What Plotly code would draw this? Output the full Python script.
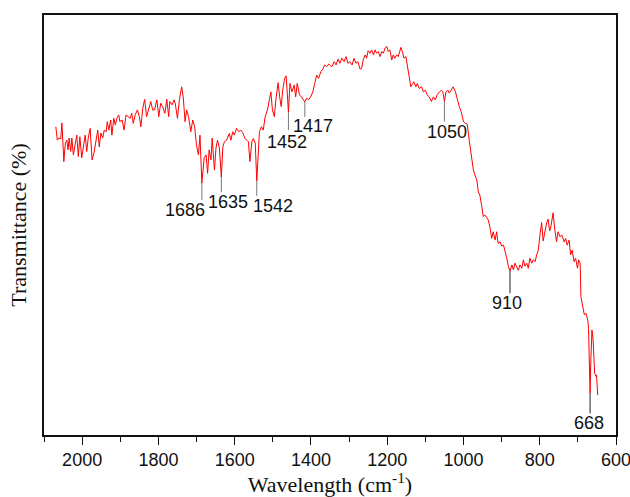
import numpy as np
import plotly.graph_objects as go

# FTIR spectrum (wavenumber in cm-1, transmittance in arbitrary %)
wavenumber = [
    2069, 2065, 2061, 2056, 2053, 2048, 2044, 2040, 2037, 2034, 2030, 2027, 2023, 2019, 2014, 2010,
    2006, 2001, 1997, 1992, 1988, 1984, 1979, 1974, 1969, 1964, 1959, 1955, 1951, 1946, 1942, 1937,
    1934, 1930, 1925, 1922, 1917, 1913, 1909, 1904, 1901, 1895, 1890, 1885, 1880, 1874, 1870, 1866,
    1861, 1855, 1850, 1846, 1841, 1836, 1831, 1825, 1820, 1815, 1810, 1804, 1799, 1794, 1789, 1783,
    1778, 1773, 1770, 1764, 1759, 1756, 1750, 1745, 1739, 1735, 1730, 1726, 1721, 1715, 1710, 1705,
    1700, 1695, 1691, 1686, 1680, 1675, 1671, 1667, 1662, 1659, 1653, 1649, 1645, 1640, 1635, 1631,
    1627, 1621, 1614, 1610, 1605, 1601, 1595, 1589, 1584, 1579, 1573, 1568, 1564, 1560, 1555, 1551,
    1546, 1542, 1535, 1530, 1525, 1520, 1514, 1509, 1505, 1501, 1496, 1492, 1486, 1482, 1478, 1474,
    1469, 1465, 1459, 1455, 1450, 1444, 1440, 1436, 1430, 1425, 1420, 1416, 1411, 1406, 1401, 1395,
    1390, 1385, 1380, 1374, 1369, 1364, 1359, 1353, 1348, 1345, 1339, 1334, 1329, 1324, 1319, 1313,
    1308, 1303, 1298, 1292, 1287, 1282, 1277, 1271, 1267, 1263, 1258, 1254, 1250, 1245, 1241, 1236,
    1232, 1228, 1223, 1219, 1214, 1210, 1206, 1201, 1197, 1193, 1188, 1184, 1180, 1175, 1171, 1166,
    1164, 1159, 1156, 1151, 1147, 1143, 1138, 1133, 1130, 1125, 1121, 1116, 1110, 1105, 1100, 1095,
    1090, 1084, 1079, 1074, 1069, 1063, 1058, 1054, 1050, 1046, 1041, 1037, 1032, 1027, 1021, 1016,
    1011, 1006, 1000, 995, 990, 985, 978, 974, 970, 965, 961, 957, 952, 948, 944, 939,
    935, 930, 926, 922, 917, 913, 909, 904, 900, 895, 891, 887, 882, 878, 873, 869,
    865, 860, 856, 852, 847, 843, 839, 834, 830, 826, 821, 817, 812, 808, 804, 799,
    795, 791, 786, 782, 778, 774, 770, 765, 761, 756, 752, 747, 742, 736, 732, 728,
    723, 719, 715, 710, 706, 701, 698, 694, 692, 687, 683, 679, 674, 672, 668, 666,
    663, 660, 656, 652, 651, 648,
]
transmittance = [
    73.4, 70.2, 70.7, 70.5, 74.3, 65.1, 69.5, 70.2, 67.9, 70.7, 67.5, 70.7, 66.7, 68.6, 71.4, 66.3,
    71.0, 66.0, 68.6, 71.4, 67.5, 70.7, 73.0, 65.5, 67.1, 70.2, 72.6, 68.6, 71.9, 70.7, 72.6, 72.2,
    74.6, 72.6, 75.0, 71.4, 75.4, 73.8, 75.4, 76.2, 74.6, 75.0, 72.6, 76.2, 75.8, 75.4, 76.6, 74.2,
    76.2, 77.4, 75.8, 73.4, 77.8, 79.9, 75.8, 78.2, 79.4, 77.4, 77.4, 79.8, 75.8, 79.0, 78.2, 76.6,
    79.9, 75.8, 79.4, 78.6, 79.8, 79.0, 75.4, 79.8, 82.9, 80.5, 74.6, 77.4, 75.8, 72.2, 75.0, 73.4,
    69.0, 66.7, 71.4, 60.0, 66.0, 66.7, 62.3, 67.9, 65.5, 70.7, 63.1, 68.3, 70.2, 68.3, 61.4, 68.6,
    69.8, 70.2, 71.8, 70.2, 72.2, 71.4, 73.0, 72.2, 72.6, 72.0, 70.6, 70.2, 69.8, 65.1, 69.8, 70.6,
    69.5, 60.5, 72.2, 73.4, 72.6, 75.8, 77.4, 79.8, 81.7, 77.4, 75.8, 79.8, 83.9, 80.5, 78.2, 82.1,
    84.9, 85.5, 76.9, 83.7, 81.7, 83.3, 80.5, 83.7, 81.0, 80.5, 79.8, 79.3, 80.2, 79.8, 80.5, 81.7,
    83.7, 85.7, 84.9, 86.5, 87.1, 88.1, 87.7, 88.3, 87.9, 87.7, 88.9, 88.1, 89.5, 88.5, 89.7, 88.9,
    90.1, 88.5, 88.9, 88.1, 89.7, 88.5, 88.9, 87.1, 87.3, 89.3, 90.5, 89.7, 91.5, 90.9, 91.7, 90.5,
    91.7, 90.9, 91.3, 90.1, 91.3, 90.9, 92.1, 92.5, 91.3, 91.7, 89.3, 90.5, 89.7, 90.5, 90.1, 91.7,
    92.3, 90.9, 89.7, 90.1, 87.7, 85.7, 82.9, 83.7, 84.1, 82.9, 83.7, 82.5, 82.9, 81.7, 82.1, 81.0,
    80.5, 79.4, 80.5, 79.8, 81.0, 81.7, 82.1, 81.7, 79.4, 81.7, 82.1, 81.4, 82.1, 82.9, 81.7, 79.8,
    78.2, 77.0, 74.6, 74.2, 74.0, 70.2, 65.5, 63.1, 61.9, 60.7, 57.9, 57.1, 54.4, 52.0, 52.4, 51.6,
    51.2, 49.2, 46.8, 48.4, 46.4, 48.4, 45.6, 46.0, 45.0, 45.2, 43.3, 42.3, 40.1, 39.0, 40.5, 39.3,
    40.9, 40.1, 39.2, 40.5, 39.7, 41.7, 40.2, 40.9, 39.7, 42.1, 40.9, 41.7, 41.3, 42.9, 43.9, 47.9,
    50.6, 46.2, 48.8, 50.5, 51.4, 48.6, 50.0, 52.9, 49.3, 46.0, 48.4, 47.2, 47.6, 46.0, 46.8, 45.2,
    46.4, 42.9, 44.0, 41.3, 42.1, 39.7, 41.7, 40.9, 32.9, 30.5, 28.6, 29.0, 27.4, 25.4, 9.9, 17.9,
    25.0, 22.6, 14.7, 13.9, 14.3, 9.5,
]

# Peak markers: position on the curve and the label printed in the reference
peak_positions = [1686, 1635, 1542, 1459, 1416, 1050, 878, 668]
peak_labels = ["1686", "1635", "1542", "1452", "1417", "1050", "910", "668"]

x_tick_values = [2000, 1800, 1600, 1400, 1200, 1000, 800, 600]
x_tick_labels = ["2000", "1800", "1600", "1400", "1200", "1000", "800", "600"]
x_minor_values = [2100, 1900, 1700, 1500, 1300, 1100, 900, 700]

# styling of the peak markers (pixel lengths / label offsets)
marker_len_px = [17, 15, 15, 18, 15, 20, 22, 20]
label_dx_px = [-17, 7, 16, -1, 8, 3, -3, -1]
label_dy_px = [2, 2, 2, 0, 3, 2, 2, 2]
marker_colors = ["#777777"] * 6 + ["#222222", "#222222"]

Y_MIN, Y_MAX = 0, 100
PLOT_H_PX = 420
px_to_y = (Y_MAX - Y_MIN) / PLOT_H_PX

wn_sorted = np.array(wavenumber[::-1], dtype=float)
t_sorted = np.array(transmittance[::-1], dtype=float)

fig = go.Figure()
fig.add_trace(go.Scatter(
    x=wavenumber, y=transmittance, mode="lines",
    line=dict(color="#ff0000", width=1), hoverinfo="skip", showlegend=False,
))

shapes = []
annotations = []
for pos, lab, ln, dx, dy, col in zip(peak_positions, peak_labels, marker_len_px,
                                     label_dx_px, label_dy_px, marker_colors):
    y0 = float(np.interp(pos, wn_sorted, t_sorted))
    y1 = y0 - ln * px_to_y
    shapes.append(dict(type="line", xref="x", yref="y", x0=pos, x1=pos, y0=y0, y1=y1,
                       line=dict(color=col, width=1)))
    annotations.append(dict(x=pos, y=y1, xref="x", yref="y", text=lab, showarrow=False,
                            xanchor="center", yanchor="top", xshift=dx, yshift=dy,
                            font=dict(family="Liberation Sans, Arial", size=18, color="#111111")))

fig.update_layout(
    width=630, height=497,
    margin=dict(l=44, r=14, t=15, b=62, autoexpand=False),
    paper_bgcolor="white", plot_bgcolor="white",
    shapes=shapes, annotations=annotations,
    xaxis=dict(
        range=[2100, 600], tickvals=x_tick_values, ticktext=x_tick_labels,
        ticks="outside", ticklen=8, tickwidth=1.3, tickcolor="#111111",
        minor=dict(tickvals=x_minor_values, ticks="outside",
                   ticklen=5, tickwidth=1.3, tickcolor="#111111"),
        showline=True, linecolor="#111111", linewidth=1.6, mirror=True,
        showgrid=False, zeroline=False, automargin=False, ticklabeloverflow="allow",
        tickfont=dict(family="Liberation Sans, Arial", size=18, color="#111111"),
        title=dict(text="Wavelength (cm<sup>-1</sup>)", standoff=0,
                   font=dict(family="Liberation Serif, Times New Roman", size=22, color="#111111")),
    ),
    yaxis=dict(
        range=[Y_MIN, Y_MAX], showticklabels=False, ticks="",
        showline=True, linecolor="#111111", linewidth=1.6, mirror=True,
        showgrid=False, zeroline=False, automargin=False,
        title=dict(text="Transmittance (%)", standoff=10,
                   font=dict(family="Liberation Serif, Times New Roman", size=22, color="#111111")),
    ),
)

fig.write_html(
    "out.html",
    config={"displayModeBar": False},
    post_script="document.body.style.margin='0px';document.body.style.padding='0px';",
)
